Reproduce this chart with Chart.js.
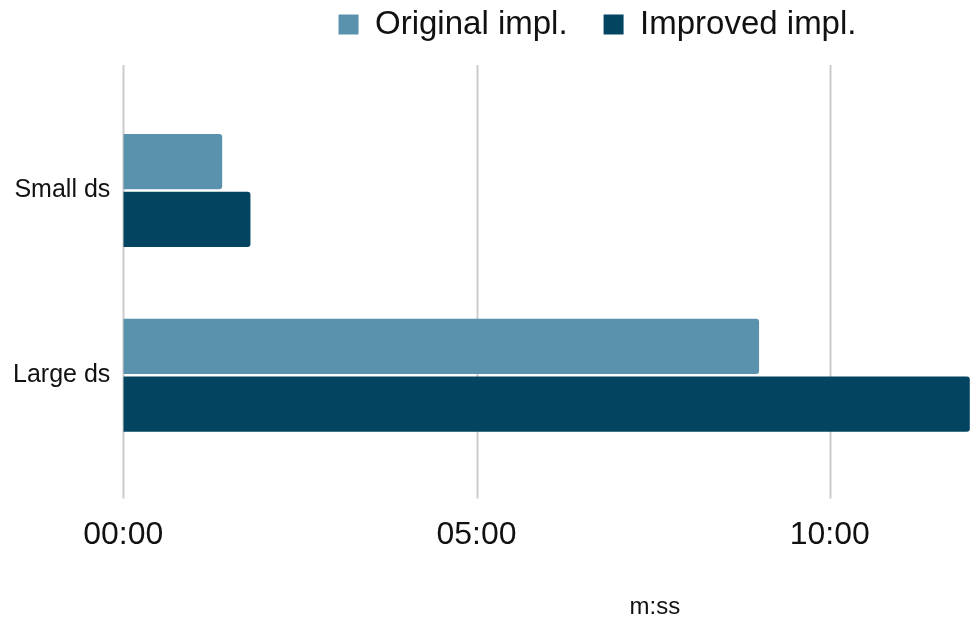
<!DOCTYPE html>
<html>
<head>
<meta charset="utf-8">
<title>Runtime comparison</title>
<script src="https://cdn.jsdelivr.net/npm/chart.js@4.4.1/dist/chart.umd.min.js"></script>
<style>
  html, body { margin: 0; padding: 0; background: #ffffff; }
  #wrap { width: 973px; height: 620px; position: relative; }
</style>
</head>
<body>
<div id="wrap"><canvas id="runtimeChart" width="973" height="620"></canvas></div>
<script>
// Dataset sizes and run times in seconds
const categories = ["Small ds", "Large ds"];
const seriesNames = ["Original impl.", "Improved impl."];
const originalSecs = [84, 540];
const improvedSecs = [108, 719];
const axisMaxSecs = 720;
const tickStepSecs = 300;
const axisTitle = "m:ss";

const lightBlue = "#5a92ae";
const darkBlue = "#034561";
const gridGray = "#cccccc";
const fontFamily = "'Liberation Sans', Arial, sans-serif";

// seconds -> mm:ss
function formatTime(secs) {
  const m = Math.floor(secs / 60);
  const s = Math.round(secs % 60);
  return String(m).padStart(2, "0") + ":" + String(s).padStart(2, "0");
}

// move the legend sideways / up after layout
const legendShift = {
  id: "legendShift",
  afterLayout(chart) {
    const lg = chart.legend;
    if (!lg) return;
    lg.left += 112;
    lg.right += 112;
    lg.top -= 47;
    lg.bottom -= 47;
  },
};

// vertical grid lines that run a bit past the plot area
const tallGrid = {
  id: "tallGrid",
  beforeDatasetsDraw(chart) {
    const { ctx, chartArea, scales } = chart;
    const xs = scales.x;
    ctx.save();
    ctx.strokeStyle = gridGray;
    ctx.lineWidth = 2;
    xs.ticks.forEach((t) => {
      const x = Math.round(xs.getPixelForValue(t.value)) + 0.5;
      ctx.beginPath();
      ctx.moveTo(x, chartArea.top - 33);
      ctx.lineTo(x, chartArea.bottom + 31);
      ctx.stroke();
    });
    ctx.restore();
  },
  afterDraw(chart) {
    // axis unit label, sits right of centre
    const { ctx, chartArea } = chart;
    ctx.save();
    ctx.fillStyle = "#111111";
    ctx.font = "24px " + fontFamily;
    ctx.textAlign = "center";
    ctx.textBaseline = "middle";
    ctx.fillText(axisTitle, chartArea.left + (chartArea.right - chartArea.left) * 0.627, chartArea.bottom + 140);
    ctx.restore();
  },
};

const ctx = document.getElementById("runtimeChart").getContext("2d");
const runtimeChart = new Chart(ctx, {
  type: "bar",
  data: {
    labels: categories,
    datasets: [
      {
        label: seriesNames[0],
        data: originalSecs,
        backgroundColor: lightBlue,
        borderRadius: 3,
        borderSkipped: "start",
        categoryPercentage: 0.625,
        barPercentage: 0.957,
      },
      {
        label: seriesNames[1],
        data: improvedSecs,
        backgroundColor: darkBlue,
        borderRadius: 3,
        borderSkipped: "start",
        categoryPercentage: 0.625,
        barPercentage: 0.957,
      },
    ],
  },
  options: {
    indexAxis: "y",
    responsive: false,
    animation: false,
    layout: { padding: { left: 0, right: 2, top: 19, bottom: 18 } },
    plugins: {
      legend: {
        position: "top",
        align: "center",
        labels: {
          boxWidth: 20,
          boxHeight: 20,
          padding: 36,
          color: "#111111",
          font: { family: fontFamily, size: 33 },
        },
      },
      tooltip: { enabled: false },
    },
    scales: {
      x: {
        type: "linear",
        min: 0,
        max: axisMaxSecs,
        grid: { display: false, drawTicks: false },
        border: { display: false },
        afterBuildTicks(scale) {
          scale.ticks = scale.ticks.filter((t) => t.value % tickStepSecs === 0);
        },
        ticks: {
          stepSize: tickStepSecs,
          padding: 48,
          color: "#111111",
          font: { family: fontFamily, size: 32 },
          callback: (v) => formatTime(v),
        },
      },
      y: {
        grid: { display: false, drawTicks: false },
        border: { display: false },
        ticks: {
          padding: 13,
          color: "#111111",
          font: { family: fontFamily, size: 25 },
        },
      },
    },
  },
  plugins: [legendShift, tallGrid],
});
</script>
</body>
</html>
